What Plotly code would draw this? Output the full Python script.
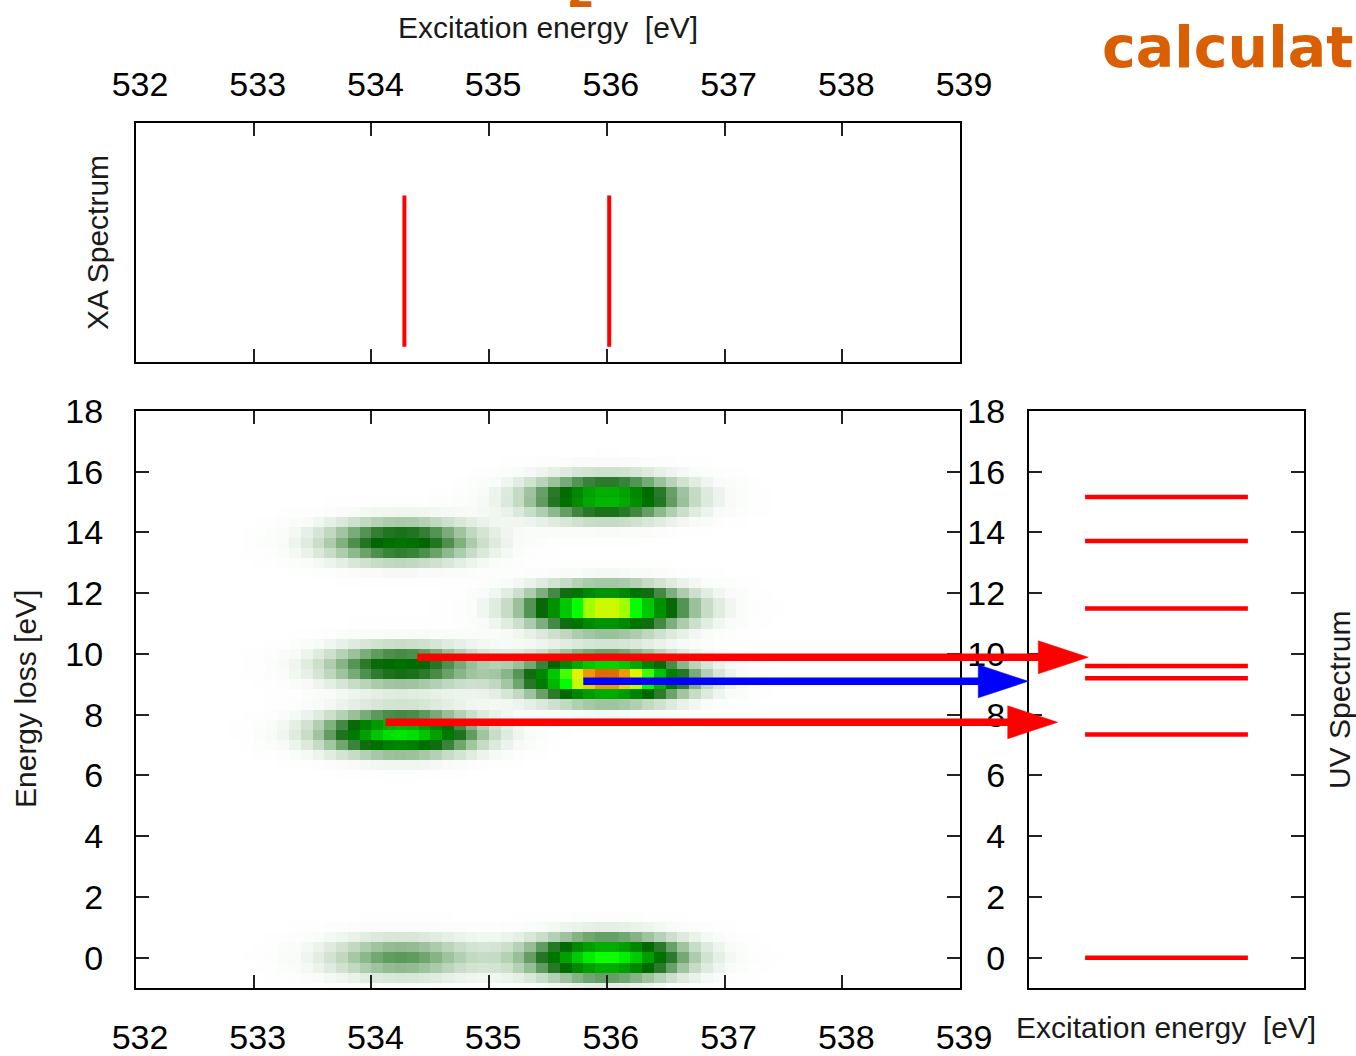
import numpy as np
import plotly.graph_objects as go

W, H = 1356, 1056

# ---------------- data ----------------
x_ticks = [532, 533, 534, 535, 536, 537, 538, 539]
y_ticks = [0, 2, 4, 6, 8, 10, 12, 14, 16, 18]

# XA spectrum sticks (excitation energy, intensity)
xa_energy = [534.28, 536.02]
xa_intensity = [1.0, 1.0]

# RIXS map peaks (excitation energy, energy loss, relative intensity)
rixs_exc = [534.25, 534.25, 534.25, 534.25, 536.0, 536.0, 536.0, 536.0]
rixs_loss = [0.0, 7.4, 9.6, 13.7, 0.0, 9.2, 11.5, 15.15]
rixs_int = [0.31, 0.69, 0.46, 0.47, 0.73, 1.02, 0.88, 0.63]

# UV spectrum levels (energy loss)
uv_levels = [0.0, 7.35, 9.2, 9.6, 11.5, 13.72, 15.17]

# arrows (start excitation energy, tip excitation energy, energy loss)
arrow_start = [534.39, 535.80, 534.12]
arrow_tip = [540.09, 539.58, 539.83]
arrow_loss = [9.89, 9.10, 7.75]
arrow_color = ["#ff0000", "#0000ff", "#ff0000"]

# ---------------- layout geometry (pixels) ----------------
def px_x(p):
    return p / W


def px_y(p):
    return 1 - p / H


MAIN_X = (136, 960)
MAIN_Y = (411, 988)
TOP_Y = (123, 362)
UV_X = (1029, 1304)

XMIN, XMAX = 532, 539
YMIN, YMAX = -1, 18

# broadening of the RIXS map
SIG_X, SIG_Y = 0.47, 0.5
xc = np.arange(XMIN + 0.05, XMAX, 0.1)
yc = np.arange(YMIN, YMAX + 0.01, 1 / 3)
XX, YY = np.meshgrid(xc, yc)
Z = np.zeros_like(XX)
for e, l, a in zip(rixs_exc, rixs_loss, rixs_int):
    Z += a * np.exp(-((XX - e) ** 2) / (2 * SIG_X ** 2) - ((YY - l) ** 2) / (2 * SIG_Y ** 2))

colorscale = [
    [0.00, "rgb(255,255,255)"],
    [0.05, "rgb(248,251,248)"],
    [0.10, "rgb(228,238,228)"],
    [0.17, "rgb(195,218,195)"],
    [0.24, "rgb(150,190,150)"],
    [0.30, "rgb(100,158,100)"],
    [0.36, "rgb(50,125,50)"],
    [0.43, "rgb(0,100,0)"],
    [0.54, "rgb(0,150,0)"],
    [0.64, "rgb(0,205,0)"],
    [0.72, "rgb(0,255,0)"],
    [0.80, "rgb(180,255,0)"],
    [0.87, "rgb(240,240,0)"],
    [0.94, "rgb(235,150,0)"],
    [1.00, "rgb(220,85,0)"],
]

fig = go.Figure()

# heatmap (main panel)
fig.add_trace(go.Heatmap(x=xc, y=yc, z=Z, zmin=0, zmax=1, colorscale=colorscale,
                         showscale=False, xaxis="x2", yaxis="y2", hoverinfo="skip"))

# XA sticks
sx, sy = [], []
for e, a in zip(xa_energy, xa_intensity):
    sx += [e, e, None]
    sy += [0, a, None]
fig.add_trace(go.Scatter(x=sx, y=sy, mode="lines", line=dict(color="#ff0000", width=4),
                         xaxis="x", yaxis="y", showlegend=False, hoverinfo="skip"))

# UV lines
UV_L0, UV_L1 = 0.204, 0.796
ux, uy = [], []
for l in uv_levels:
    ux += [UV_L0, UV_L1, None]
    uy += [l, l, None]
fig.add_trace(go.Scatter(x=ux, y=uy, mode="lines", line=dict(color="#ff0000", width=4.5),
                         xaxis="x3", yaxis="y3", showlegend=False, hoverinfo="skip"))

# arrows on an overlay axis sharing the main eV scale
ov_x1 = 1.0
ov_range_max = XMIN + (XMAX - XMIN) * (W - MAIN_X[0]) / (MAIN_X[1] - MAIN_X[0])
px_per_ev_x = (MAIN_X[1] - MAIN_X[0]) / (XMAX - XMIN)
px_per_ev_y = (MAIN_Y[1] - MAIN_Y[0]) / (YMAX - YMIN)
HEAD_LEN = 50 / px_per_ev_x
HEAD_HALF = 16.5 / px_per_ev_y
for s, t, l, c in zip(arrow_start, arrow_tip, arrow_loss, arrow_color):
    base = t - HEAD_LEN
    fig.add_trace(go.Scatter(x=[s, base + 0.02], y=[l, l], mode="lines",
                             line=dict(color=c, width=7.5), xaxis="x4", yaxis="y4",
                             showlegend=False, hoverinfo="skip"))
    fig.add_trace(go.Scatter(x=[base, t, base, base], y=[l + HEAD_HALF, l, l - HEAD_HALF, l + HEAD_HALF],
                             mode="lines", fill="toself", fillcolor=c, line=dict(color=c, width=0.5),
                             xaxis="x4", yaxis="y4", showlegend=False, hoverinfo="skip"))

TICK_FONT = dict(family="Liberation Sans, Arial, sans-serif", size=34, color="#000000")
TITLE_FONT = dict(family="Liberation Sans, Arial, sans-serif", size=30, color="#1a1a1a")
LINE = dict(showline=True, linecolor="#000000", linewidth=2, ticks="inside", ticklen=13,
            tickwidth=1.5, tickcolor="#222222", zeroline=False, showgrid=False)

fig.update_layout(
    width=W, height=H,
    margin=dict(l=0, r=0, t=0, b=0, autoexpand=False),
    paper_bgcolor="white", plot_bgcolor="rgba(0,0,0,0)",
    showlegend=False,
    # top panel (XA spectrum)
    xaxis=dict(domain=[px_x(MAIN_X[0]), px_x(MAIN_X[1])], range=[XMIN, XMAX], side="top",
               tickvals=x_ticks, tickfont=TICK_FONT, mirror="ticks", anchor="y",
               ticklabelstandoff=11, ticklabelshift=4, **LINE),
    yaxis=dict(domain=[px_y(TOP_Y[1]), px_y(TOP_Y[0])], range=[-0.1, 1.48], showticklabels=False,
               showline=True, linecolor="#000000", linewidth=2, mirror=True, ticks="",
               zeroline=False, showgrid=False, anchor="x"),
    # main panel (RIXS map)
    xaxis2=dict(domain=[px_x(MAIN_X[0]), px_x(MAIN_X[1])], range=[XMIN, XMAX],
                tickvals=x_ticks, tickfont=TICK_FONT, mirror="ticks", anchor="y2",
                ticklabelstandoff=18, ticklabelshift=4, **LINE),
    yaxis2=dict(domain=[px_y(MAIN_Y[1]), px_y(MAIN_Y[0])], range=[YMIN, YMAX],
                tickvals=y_ticks, tickfont=TICK_FONT, mirror="ticks", anchor="x2",
                ticklabelstandoff=24, **LINE),
    # UV panel
    xaxis3=dict(domain=[px_x(UV_X[0]), px_x(UV_X[1])], range=[0, 1], showticklabels=False,
                showline=True, linecolor="#000000", linewidth=2, mirror=True, ticks="",
                zeroline=False, showgrid=False, anchor="y3"),
    yaxis3=dict(domain=[px_y(MAIN_Y[1]), px_y(MAIN_Y[0])], range=[YMIN, YMAX],
                tickvals=y_ticks, tickfont=TICK_FONT, mirror="ticks", anchor="x3",
                ticklabelstandoff=15, **LINE),
    # overlay for arrows
    xaxis4=dict(domain=[px_x(MAIN_X[0]), ov_x1], range=[XMIN, ov_range_max], visible=False,
                anchor="y4"),
    yaxis4=dict(domain=[px_y(MAIN_Y[1]), px_y(MAIN_Y[0])], range=[YMIN, YMAX], visible=False,
                anchor="x4"),
)

annotations = [
    dict(text="Excitation energy  [eV]", x=px_x(548), y=px_y(28), xanchor="center", yanchor="middle",
         font=TITLE_FONT),
    dict(text="XA Spectrum", x=px_x(97), y=px_y(243), xanchor="center", yanchor="middle",
         textangle=-90, font=TITLE_FONT),
    dict(text="Energy loss [eV]", x=px_x(25), y=px_y(699), xanchor="center", yanchor="middle",
         textangle=-90, font=TITLE_FONT),
    dict(text="Excitation energy  [eV]", x=px_x(1166), y=px_y(1027), xanchor="center",
         yanchor="middle", font=TITLE_FONT),
    dict(text="UV Spectrum", x=px_x(1339), y=px_y(700), xanchor="center", yanchor="middle",
         textangle=-90, font=TITLE_FONT),
    dict(text="<b>calculat</b>", x=px_x(1100), y=px_y(47), xanchor="left", yanchor="middle",
         font=dict(family="DejaVu Sans", size=57, color="#d95f02")),
    dict(text="<b>2</b>", x=px_x(581), y=px_y(18), xanchor="center", yanchor="bottom",
         font=dict(family="DejaVu Sans", size=40, color="#d95f02")),
]
for a in annotations:
    a.update(xref="paper", yref="paper", showarrow=False)
fig.update_layout(annotations=annotations)

fig.write_html("out.html")
